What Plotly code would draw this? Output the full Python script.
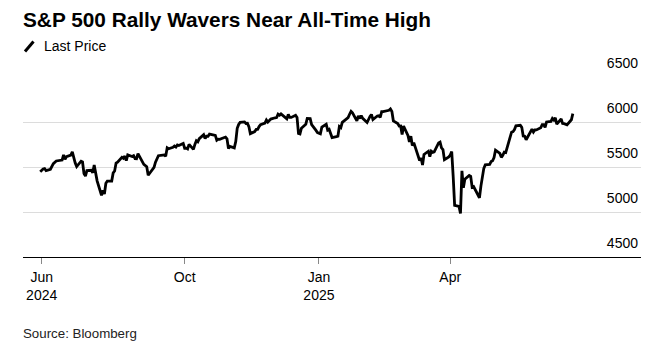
import plotly.graph_objects as go

# S&P 500 daily closes, 2024-06-24 .. 2025-06-24 (read/estimated)
dates_2024 = [
    "2024-06-24","2024-06-25","2024-06-26","2024-06-27","2024-06-28",
    "2024-07-01","2024-07-02","2024-07-03","2024-07-05","2024-07-08","2024-07-09","2024-07-10","2024-07-11","2024-07-12",
    "2024-07-15","2024-07-16","2024-07-17","2024-07-18","2024-07-19","2024-07-22","2024-07-23","2024-07-24","2024-07-25",
    "2024-07-26","2024-07-29","2024-07-30","2024-07-31",
    "2024-08-01","2024-08-02","2024-08-05","2024-08-06","2024-08-07","2024-08-08","2024-08-09","2024-08-12","2024-08-13",
    "2024-08-14","2024-08-15","2024-08-16","2024-08-19","2024-08-20","2024-08-21","2024-08-22","2024-08-23","2024-08-26",
    "2024-08-27","2024-08-28","2024-08-29","2024-08-30",
    "2024-09-03","2024-09-04","2024-09-05","2024-09-06","2024-09-09","2024-09-10","2024-09-11","2024-09-12","2024-09-13",
    "2024-09-16","2024-09-17","2024-09-18","2024-09-19","2024-09-20","2024-09-23","2024-09-24","2024-09-25","2024-09-26",
    "2024-09-27","2024-09-30",
    "2024-10-01","2024-10-02","2024-10-03","2024-10-04","2024-10-07","2024-10-08","2024-10-09","2024-10-10","2024-10-11",
    "2024-10-14","2024-10-15","2024-10-16","2024-10-17","2024-10-18","2024-10-21","2024-10-22","2024-10-23","2024-10-24",
    "2024-10-25","2024-10-28","2024-10-29","2024-10-30","2024-10-31",
    "2024-11-01","2024-11-04","2024-11-05","2024-11-06","2024-11-07","2024-11-08","2024-11-11","2024-11-12","2024-11-13",
    "2024-11-14","2024-11-15","2024-11-18","2024-11-19","2024-11-20","2024-11-21","2024-11-22","2024-11-25","2024-11-26",
    "2024-11-27","2024-11-29",
    "2024-12-02","2024-12-03","2024-12-04","2024-12-05","2024-12-06","2024-12-09","2024-12-10","2024-12-11","2024-12-12",
    "2024-12-13","2024-12-16","2024-12-17","2024-12-18","2024-12-19","2024-12-20","2024-12-23","2024-12-24","2024-12-26",
    "2024-12-27","2024-12-30","2024-12-31",
]
close_2024 = [
    5447.87,5469.30,5477.90,5482.87,5460.48,
    5475.09,5509.01,5537.02,5567.19,5572.85,5576.98,5633.91,5584.54,5615.35,
    5631.22,5667.20,5588.27,5544.59,5505.00,5564.41,5555.74,5427.13,5399.22,
    5459.10,5463.54,5436.44,5522.30,
    5446.68,5346.56,5186.33,5240.03,5199.50,5319.31,5344.16,5344.39,5434.43,
    5455.21,5543.22,5554.25,5608.25,5597.12,5620.85,5570.64,5634.61,5616.84,
    5625.80,5592.18,5591.96,5648.40,
    5528.93,5520.07,5503.41,5408.42,5471.05,5495.52,5554.13,5595.76,5626.02,
    5633.09,5634.58,5618.26,5713.64,5702.55,5718.57,5732.93,5722.26,5745.37,
    5738.17,5762.48,
    5708.75,5709.54,5699.94,5751.07,5695.94,5751.13,5792.04,5780.05,5815.03,
    5859.85,5815.26,5842.47,5841.47,5864.67,5853.98,5851.20,5797.42,5809.86,
    5808.12,5823.52,5832.92,5813.67,5705.45,
    5728.80,5712.69,5782.76,5929.04,5973.10,5995.54,6001.35,5983.99,5985.38,
    5949.17,5870.62,5893.62,5916.98,5917.11,5948.71,5969.34,5987.37,6021.63,
    5998.74,6032.38,
    6047.15,6049.88,6086.49,6075.11,6090.27,6052.85,6034.91,6084.19,6051.25,
    6051.09,6074.08,6050.61,5872.16,5867.08,5930.85,5974.07,6040.04,6037.59,
    5970.84,5906.94,5881.63,
]
dates_2025 = [
    "2025-01-02","2025-01-03","2025-01-06","2025-01-07","2025-01-08","2025-01-10","2025-01-13","2025-01-14","2025-01-15",
    "2025-01-16","2025-01-17","2025-01-21","2025-01-22","2025-01-23","2025-01-24","2025-01-27","2025-01-28","2025-01-29",
    "2025-01-30","2025-01-31",
    "2025-02-03","2025-02-04","2025-02-05","2025-02-06","2025-02-07","2025-02-10","2025-02-11","2025-02-12","2025-02-13",
    "2025-02-14","2025-02-18","2025-02-19","2025-02-20","2025-02-21","2025-02-24","2025-02-25","2025-02-26","2025-02-27",
    "2025-02-28",
    "2025-03-03","2025-03-04","2025-03-05","2025-03-06","2025-03-07","2025-03-10","2025-03-11","2025-03-12","2025-03-13",
    "2025-03-14","2025-03-17","2025-03-18","2025-03-19","2025-03-20","2025-03-21","2025-03-24","2025-03-25","2025-03-26",
    "2025-03-27","2025-03-28","2025-03-31",
    "2025-04-01","2025-04-02","2025-04-03","2025-04-04","2025-04-07","2025-04-08","2025-04-09","2025-04-10","2025-04-11",
    "2025-04-14","2025-04-15","2025-04-16","2025-04-17","2025-04-21","2025-04-22","2025-04-23","2025-04-24","2025-04-25",
    "2025-04-28","2025-04-29","2025-04-30",
    "2025-05-01","2025-05-02","2025-05-05","2025-05-06","2025-05-07","2025-05-08","2025-05-09","2025-05-12","2025-05-13",
    "2025-05-14","2025-05-15","2025-05-16","2025-05-19","2025-05-20","2025-05-21","2025-05-22","2025-05-23","2025-05-27",
    "2025-05-28","2025-05-29","2025-05-30",
    "2025-06-02","2025-06-03","2025-06-04","2025-06-05","2025-06-06","2025-06-09","2025-06-10","2025-06-11","2025-06-12",
    "2025-06-13","2025-06-16","2025-06-17","2025-06-18","2025-06-20","2025-06-23","2025-06-24",
]
close_2025 = [
    5868.55,5942.47,5975.38,5909.03,5918.25,5827.04,5836.22,5842.91,5949.91,
    5937.34,5996.66,6049.24,6086.37,6118.71,6101.24,6012.28,6067.70,6039.31,
    6071.17,6040.53,
    5994.57,6037.88,6061.48,6083.57,6025.99,6066.44,6068.50,6051.97,6115.07,
    6114.63,6129.58,6144.15,6117.52,6013.13,5983.25,5955.25,5956.06,5861.57,
    5954.50,
    5849.72,5778.15,5842.63,5738.52,5770.20,5614.56,5572.07,5599.30,5521.52,
    5638.94,5675.12,5614.66,5675.29,5662.89,5667.56,5767.57,5776.65,5712.20,
    5693.31,5580.94,5611.85,
    5633.07,5670.97,5396.52,5074.08,5062.25,4982.77,5456.90,5268.05,5363.36,
    5405.97,5396.63,5275.70,5282.70,5158.20,5287.76,5375.86,5484.77,5525.21,
    5528.75,5560.83,5569.06,
    5604.14,5686.67,5650.38,5606.91,5631.28,5663.94,5659.91,5844.19,5886.55,
    5892.58,5916.93,5958.38,5963.60,5940.46,5844.61,5842.01,5802.82,5921.54,
    5888.55,5912.17,5911.69,
    5935.94,5970.37,5970.81,5939.30,6000.36,6005.88,6038.81,6022.24,6045.26,
    5976.97,6033.11,5982.72,5980.87,5967.84,6025.17,6092.18,
]

dates = dates_2024 + dates_2025
closes = close_2024 + close_2025

x_tickvals = ["2024-06-25", "2024-10-01", "2025-01-01", "2025-04-01"]
x_ticktext = ["Jun<br>2024", "Oct", "Jan<br>2025", "Apr"]
y_tickvals = [4500, 5000, 5500, 6000, 6500]

title_text = "S&P 500 Rally Wavers Near All-Time High"
legend_text = "Last Price"
source_text = "Source: Bloomberg"

FONT = "Liberation Sans, Arial, sans-serif"

W, H = 663, 344
L, R, T, B = 23, 22, 77, 87
pw, ph = W - L - R, H - T - B

def px_x(x):
    return (x - L) / pw

def px_y(y):
    return (H - B - y) / ph

fig = go.Figure()
fig.add_trace(go.Scatter(
    x=dates, y=closes, mode="lines",
    line=dict(color="#000000", width=2.8),
    showlegend=False, hoverinfo="skip",
))

fig.update_layout(
    width=W, height=H,
    margin=dict(l=L, r=R, t=T, b=B, pad=0),
    paper_bgcolor="white", plot_bgcolor="white",
    font=dict(family=FONT, color="#000000", size=14),
    showlegend=False,
    xaxis=dict(
        type="date",
        range=["2024-06-12 05:00", "2025-08-09 17:00"],
        tickmode="array", tickvals=x_tickvals, ticktext=x_ticktext,
        ticks="outside", ticklen=6, tickwidth=1, tickcolor="#888888",
        ticklabelstandoff=1,
        showline=True, linecolor="#000000", linewidth=1.2,
        showgrid=False, zeroline=False,
        tickfont=dict(family=FONT, size=14, color="#000000"),
    ),
    yaxis=dict(
        range=[4500, 6500], side="right",
        tickmode="array", tickvals=y_tickvals,
        ticklabelposition="inside top", ticklabeloverflow="allow",
        ticklabelshift=-4,
        showgrid=True, gridcolor="#dcdcdc", gridwidth=1.2,
        zeroline=False, showline=False, ticks="",
        tickfont=dict(family=FONT, size=14, color="#000000"),
    ),
)

fig.add_annotation(
    text="<b>" + title_text + "</b>", xref="paper", yref="paper",
    x=px_x(21), y=px_y(19.5), xanchor="left", yanchor="middle",
    showarrow=False, font=dict(family=FONT, size=20.8, color="#000000"),
)
fig.add_annotation(
    text=legend_text, xref="paper", yref="paper",
    x=px_x(42), y=px_y(46), xanchor="left", yanchor="middle",
    showarrow=False, font=dict(family=FONT, size=14, color="#000000"),
)
fig.add_shape(
    type="line", xref="paper", yref="paper",
    x0=px_x(25), y0=px_y(51.5), x1=px_x(33.5), y1=px_y(41.5),
    line=dict(color="#000000", width=3),
)
fig.add_annotation(
    text=source_text, xref="paper", yref="paper",
    x=px_x(21), y=px_y(333.5), xanchor="left", yanchor="middle",
    showarrow=False, font=dict(family=FONT, size=13.3, color="#222222"),
)

fig.write_html("out.html")
